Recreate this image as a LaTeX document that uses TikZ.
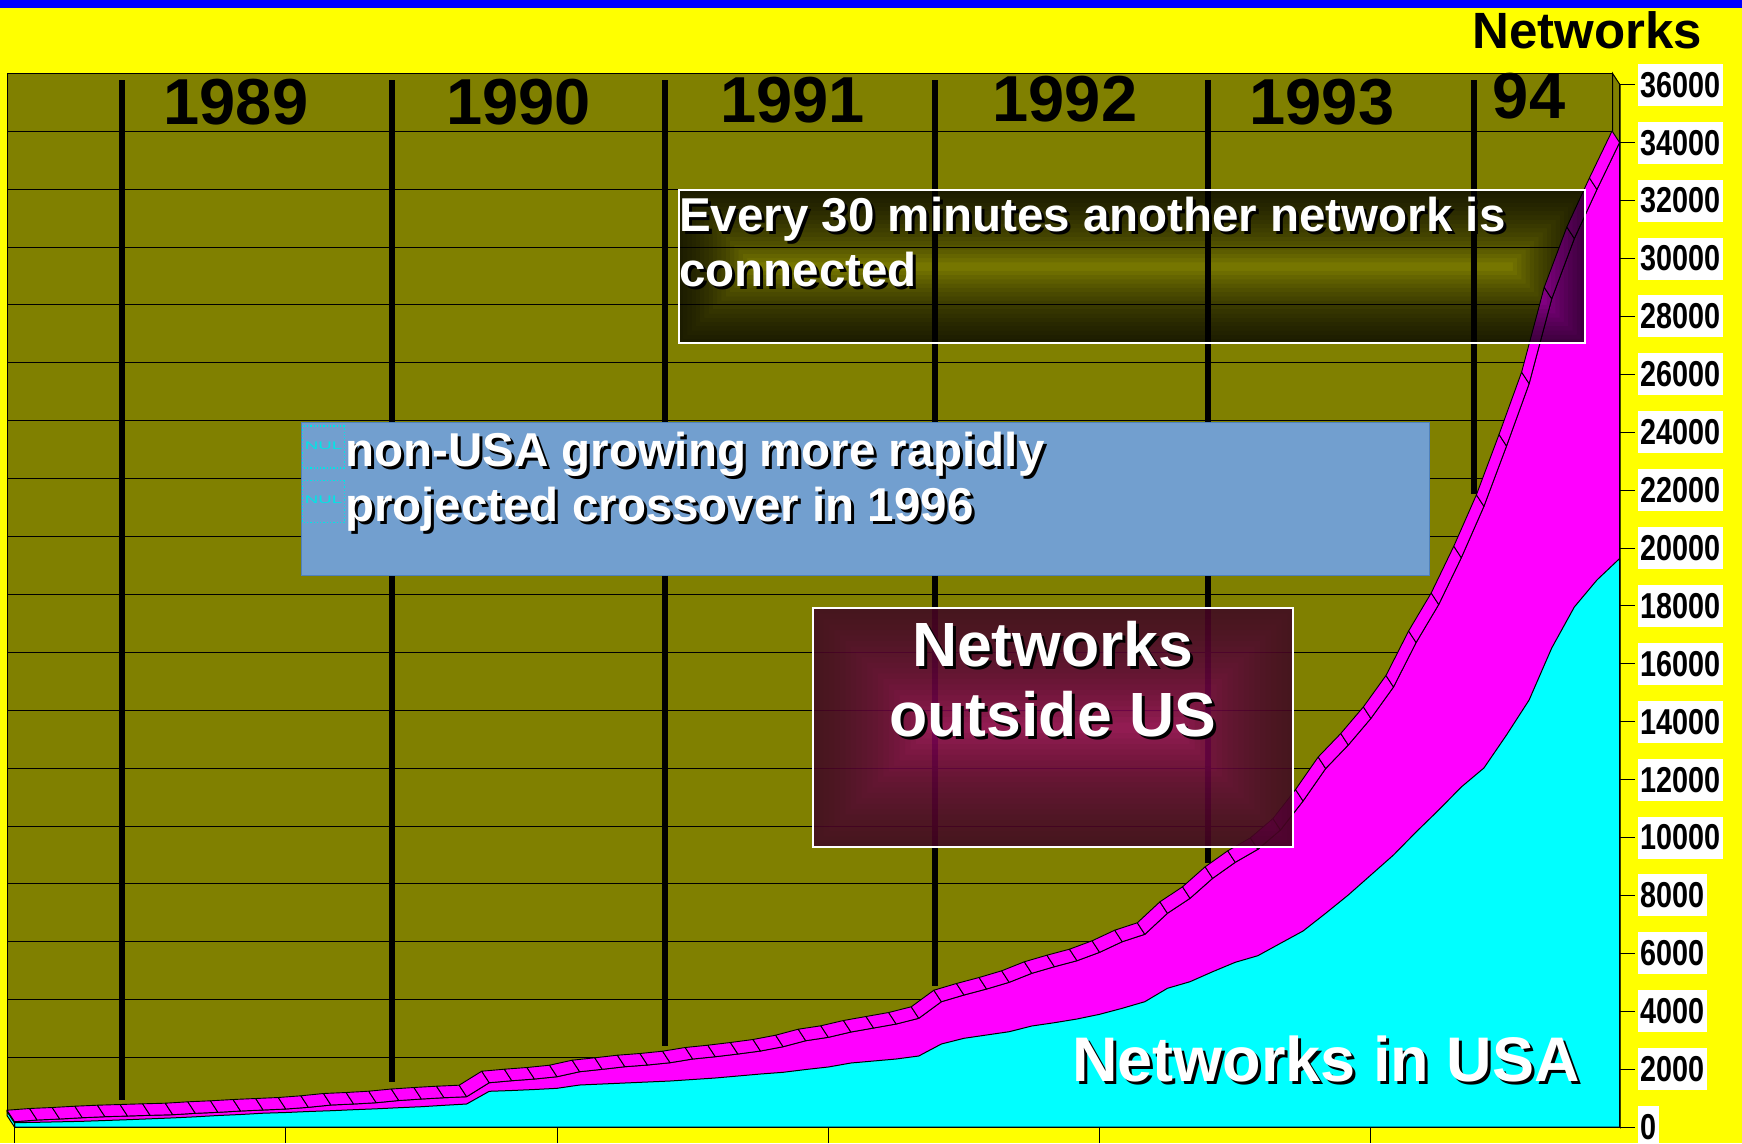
\documentclass[tikz,border=0pt]{standalone}
\usepackage{fontspec}
\setmainfont{Liberation Sans}
\newfontfamily\narrowfont[FakeStretch=0.8]{Liberation Sans}
\definecolor{ybg}{RGB}{255,255,0}
\definecolor{bband}{RGB}{0,0,255}
\definecolor{olivebg}{RGB}{128,128,0}
\definecolor{mag}{RGB}{255,0,255}
\definecolor{cya}{RGB}{0,255,255}
\definecolor{boxblue}{RGB}{114,159,207}
\definecolor{boxblueedge}{RGB}{79,129,189}
\definecolor{maroonc}{RGB}{158,5,108}
\definecolor{maroone}{RGB}{45,22,15}
\definecolor{nulc}{RGB}{0,230,230}
\newcommand\shtxt[6]{%
  \node[anchor=#4, inner sep=0pt, text=black, font=\fontsize{#5}{#5}\selectfont\bfseries] (#1s) at ({#2+3},{#3+3}) {#6};
  \node[anchor=#4, inner sep=0pt, text=white, font=\fontsize{#5}{#5}\selectfont\bfseries] (#1) at (#2,#3) {#6};}
\newcommand\ringbox[8]{%
  \foreach \k in {1,...,#6}{%
    \pgfmathsetmacro\ss{#8*\k/#6}
    \fill[#5, fill opacity=#7, even odd rule] (#1,#2) rectangle (#3,#4) ({#1+\ss},{#2+\ss}) rectangle ({#3-\ss},{#4-\ss});
  }}
\def\Mt{{1121.7,1120,1119,1117.7,1116.7,1116,1115.3,1114.7,1113.3,1112.3,1111,1110,1109,1107.3,1105,1104,1102.7,1100.5,1099,1097.7,1096.7,1082.7,1080.7,1079,1076.7,1071.7,1069.3,1066.7,1065,1062.7,1059,1056.7,1054,1051,1046.7,1040.7,1037.3,1032,1028,1024,1018.3,1001.7,995,989,982.3,973.3,966.7,960.7,952.3,941.7,934.3,913.3,898.3,878.3,862.3,849.3,830,801,768.5,745,718.4,687,642.5,604.5,557.7,506.3,446,383.6,298.75,238.5,189.4,142.5}}
\def\Ct{{1122.7,1122.3,1121.8,1121.3,1120.5,1119.7,1118.8,1117.9,1116.8,1115.5,1114.5,1113.2,1112.5,1111.5,1110.7,1109.7,1108.8,1107.7,1106.7,1105.3,1104,1091.3,1090.5,1089.5,1088.3,1085,1084,1083,1082,1081,1079.5,1078,1076,1074,1072.3,1069.5,1067,1063,1061,1059,1056,1044,1038.3,1035,1031.7,1026,1022.7,1019,1014.3,1008.3,1001.7,988.3,981.7,971.7,962.3,955.7,943.3,931,913.3,895,875,855,832,810,787,768,735,700,648,607,580,558.6}}
\begin{document}
\begin{tikzpicture}[x=1pt,y=-1pt,
  yearlbl/.style={font=\fontsize{65}{65}\selectfont\bfseries, inner sep=0pt, anchor=base, text=black},
  yearline/.style={line width=5.5pt, black},
  gridl/.style={black, line width=1pt},
  ribbon/.style={fill=mag, draw=black, line width=0.9pt, line join=round},
  face/.style={draw=black, line width=1pt, line join=round},
  tickl/.style={black, line width=1pt},
  ylab/.style={anchor=west, fill=white, inner xsep=2.5pt, inner ysep=0pt, minimum height=42pt,
    font=\narrowfont\fontsize{36}{36}\selectfont\bfseries},
  nulbox/.style={draw=nulc, dotted, line width=1.3pt},
  nultxt/.style={text=nulc, inner sep=0pt, font=\fontsize{11}{11}\selectfont}]
\useasboundingbox (0,0) rectangle (1742,1143);
\fill[ybg] (0,0) rectangle (1742,1143);
\fill[bband] (0,0) rectangle (1742,8);
% back wall and side wall
\filldraw[fill=olivebg, draw=black, line width=1pt] (7,73.3) rectangle (1612.5,1115.5);
\foreach \k in {1,...,17} \draw[gridl] (7,{1115.5-57.9*\k}) -- (1612.5,{1115.5-57.9*\k});
\filldraw[fill=olivebg, draw=black, line width=1pt] (1612.5,73.3) -- (1620,84.8) -- (1620,1127) -- (1612.5,1115.5) -- cycle;
% year separators
\draw[yearline] (122,80) -- (122,1100);
\draw[yearline] (392,80) -- (392,1082);
\draw[yearline] (665,80) -- (665,1046);
\draw[yearline] (935,80) -- (935,986);
\draw[yearline] (1208,80) -- (1208,863);
\draw[yearline] (1474,80) -- (1474,494);
% year labels
\node[yearlbl] (y89) at (236,124) {1989};
\node[yearlbl] (y90) at (518.5,124) {1990};
\node[yearlbl] (y91) at (792.5,122) {1991};
\node[yearlbl] (y92) at (1065,121) {1992};
\node[yearlbl] (y93) at (1322,124) {1993};
\node[yearlbl] (y94) at (1529,118) {94};
% data coordinates
\foreach \i in {0,...,71}{
  \pgfmathsetmacro\xx{14.5+22.606*\i}
  \pgfmathsetmacro\ym{\Mt[\i]}
  \pgfmathsetmacro\yc{\Ct[\i]}
  \coordinate (m\i) at (\xx,\ym);
  \coordinate (c\i) at (\xx,\yc);
  \coordinate (bm\i) at ({\xx-7.5},{\ym-11.5});
}
% front faces
\filldraw[face, fill=mag] (14.5,1127) \foreach \i in {0,...,71}{ -- (m\i) } -- (1619.5,1127) -- cycle;
\filldraw[face, fill=cya] (14.5,1127) \foreach \i in {0,...,71}{ -- (c\i) } -- (1619.5,1127) -- cycle;
% left side faces
\filldraw[face, fill=cya] (14.5,1127) -- (c0) -- (7,1111.2) -- (7,1115.5) -- cycle;
\filldraw[face, fill=mag] (c0) -- (m0) -- (bm0) -- (7,1111.2) -- cycle;
% top ribbon
\foreach \i [evaluate=\i as \j using int(\i+1)] in {0,...,70}{
  \filldraw[ribbon] (m\i) -- (m\j) -- (bm\j) -- (bm\i) -- cycle;
}
% axes
\draw[tickl] (1619.5,84.8) -- (1619.5,1127);
\draw[tickl] (14.5,1127) -- (1619.5,1127);
\foreach \i in {0,12,24,36,48,60} \draw[tickl] ({14.5+22.606*\i},1127) -- ({14.5+22.606*\i},1143);
\foreach \k in {0,...,18}{
  \draw[tickl] (1619.5,{1127-57.9*\k}) -- (1635,{1127-57.9*\k});
  \node[ylab] (lab\k) at (1638,{1127-57.9*\k}) {\number\numexpr 2000*\k\relax};
}
\node[anchor=base east, inner sep=0pt, font=\fontsize{51}{51}\selectfont\bfseries] (title) at (1702,48) {Networks};
% blue box
\filldraw[fill=boxblue, draw=boxblueedge, line width=1pt] (301.7,422.7) rectangle (1429.3,575);
\draw[nulbox] (302.7,426) rectangle (344.3,468);
\draw[nulbox] (302.7,480.7) rectangle (344.3,522.7);
\node[nultxt] (nul1) at (323.5,445.5) {\scalebox{1.7}[1]{NUL}};
\node[nultxt] (nul2) at (323.5,500) {\scalebox{1.7}[1]{NUL}};
\shtxt{nona}{345}{466.7}{base west}{47.5}{non-USA growing more rapidly}
\shtxt{nonb}{345}{521.7}{base west}{47.5}{projected crossover in 1996}
% every 30 minutes box
\ringbox{679}{190}{1585}{343}{black}{18}{0.07}{76.5}
\draw[white, line width=2pt] (679,190) rectangle (1585,343);
\shtxt{evA}{679}{231.7}{base west}{47.5}{Every 30 minutes another network is}
\shtxt{evB}{679}{286}{base west}{47.5}{connected}
% outside US box
\fill[maroonc, fill opacity=0.8] (812.7,608.3) rectangle (1292.7,847.3);
\ringbox{812.7}{608.3}{1292.7}{847.3}{maroone}{22}{0.055}{119.5}
\draw[white, line width=2pt] (812.7,608.3) rectangle (1292.7,847.3);
\shtxt{outA}{1052.7}{666}{base}{62.5}{Networks}
\shtxt{outB}{1052.7}{736.7}{base}{62.5}{outside US}
% USA label
\shtxt{usa}{1072}{1081.7}{base west}{63}{Networks in USA}
\end{tikzpicture}
\end{document}
